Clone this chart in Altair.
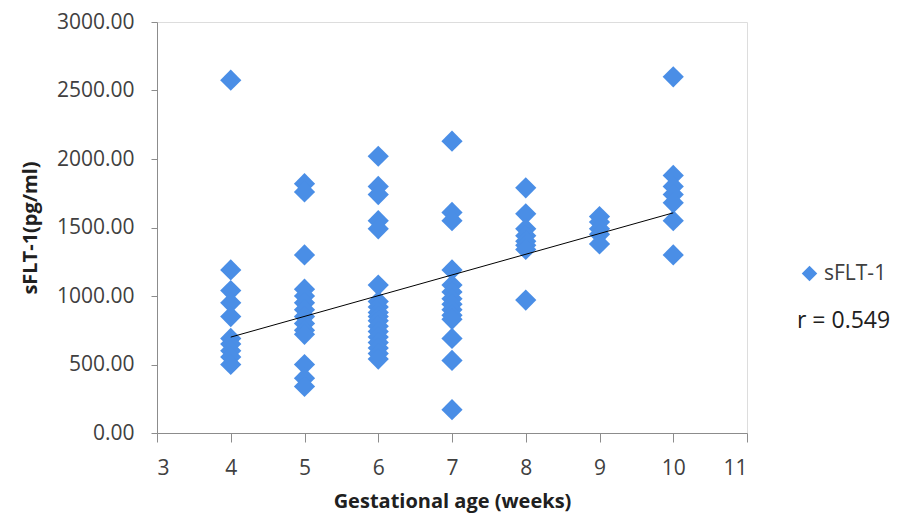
import altair as alt
import pandas as pd

# sFLT-1 values (pg/ml) by gestational age (weeks)
w4 = [2575, 1190, 1040, 950, 850, 690, 650, 600, 555, 500]
w5 = [1820, 1760, 1300, 1050, 1000, 950, 900, 850, 800, 750, 720, 500, 400, 340]
w6 = [2020, 1800, 1740, 1550, 1490, 1080, 960, 920, 880, 850, 820, 780, 740, 700, 660, 620, 580, 540]
w7 = [2130, 1610, 1550, 1190, 1080, 1030, 980, 940, 900, 860, 830, 690, 530, 170]
w8 = [1790, 1600, 1490, 1440, 1400, 1370, 1340, 970]
w9 = [1580, 1540, 1490, 1450, 1380]
w10 = [2600, 1880, 1800, 1740, 1680, 1550, 1300]

weeks = [4, 5, 6, 7, 8, 9, 10]
groups = [w4, w5, w6, w7, w8, w9, w10]
series_name = "sFLT-1"
r_label = "r = 0.549"
x_ticks = [3, 4, 5, 6, 7, 8, 9, 10, 11]
y_ticks = [0, 500, 1000, 1500, 2000, 2500, 3000]
# linear trend line end points as drawn in the reference
trend_x = [4, 10]
trend_y = [700, 1607]

rows = []
for wk, vals in zip(weeks, groups):
    for v in vals:
        rows.append({"week": wk, "value": v, "series": series_name})
df = pd.DataFrame(rows)
trend_df = pd.DataFrame({"week": trend_x, "value": trend_y})

FONT = "Open Sans"
BLUE = "#4a8ee6"
AXIS_GRAY = "#8c8c8c"
TEXT = "#404040"

x = alt.X("week:Q", scale=alt.Scale(domain=[3, 11], nice=False),
          axis=alt.Axis(values=x_ticks, format="d", title="Gestational age (weeks)", grid=False,
                        labelFontSize=21, labelColor=TEXT, labelFont=FONT,
                        titleFontSize=20, titleFont=FONT, titleFontWeight="bold", titleColor="#202020",
                        titlePadding=13, labelPadding=15, tickSize=9,
                        domainColor=AXIS_GRAY, tickColor=AXIS_GRAY))
y = alt.Y("value:Q", scale=alt.Scale(domain=[0, 3000], nice=False),
          axis=alt.Axis(values=y_ticks, format=".2f", title="sFLT-1(pg/ml)", grid=False,
                        labelFontSize=21, labelColor=TEXT, labelFont=FONT,
                        titleFontSize=20, titleFont=FONT, titleFontWeight="bold", titleColor="#202020",
                        titlePadding=16, labelPadding=17, tickSize=6,
                        domainColor=AXIS_GRAY, tickColor=AXIS_GRAY))

points = alt.Chart(df).mark_point(shape="diamond", filled=True, opacity=1, size=450).encode(
    x=x, y=y,
    color=alt.Color("series:N", scale=alt.Scale(range=[BLUE]),
                    legend=alt.Legend(title=None, orient="none", legendX=642, legendY=241,
                                      symbolType="diamond", symbolSize=240, symbolOpacity=1,
                                      labelFontSize=21, labelFont=FONT, labelColor=TEXT)),
)

trend = alt.Chart(trend_df).mark_line(color="black", strokeWidth=1).encode(
    x="week:Q", y="value:Q")

rtext = alt.Chart(pd.DataFrame({"t": [r_label]})).mark_text(
    align="left", baseline="middle", fontSize=23, font=FONT, color="#202020"
).encode(x=alt.value(640), y=alt.value(299), text="t:N")

chart = (points + trend + rtext).properties(
    width=590, height=411,
    autosize=alt.AutoSizeParams(type="none"),
    padding={"left": 149, "top": 14, "right": 154, "bottom": 85},
).configure_view(stroke=None).configure(background="white")

chart.save("out.html", embed_options={"renderer": "svg", "actions": False})
